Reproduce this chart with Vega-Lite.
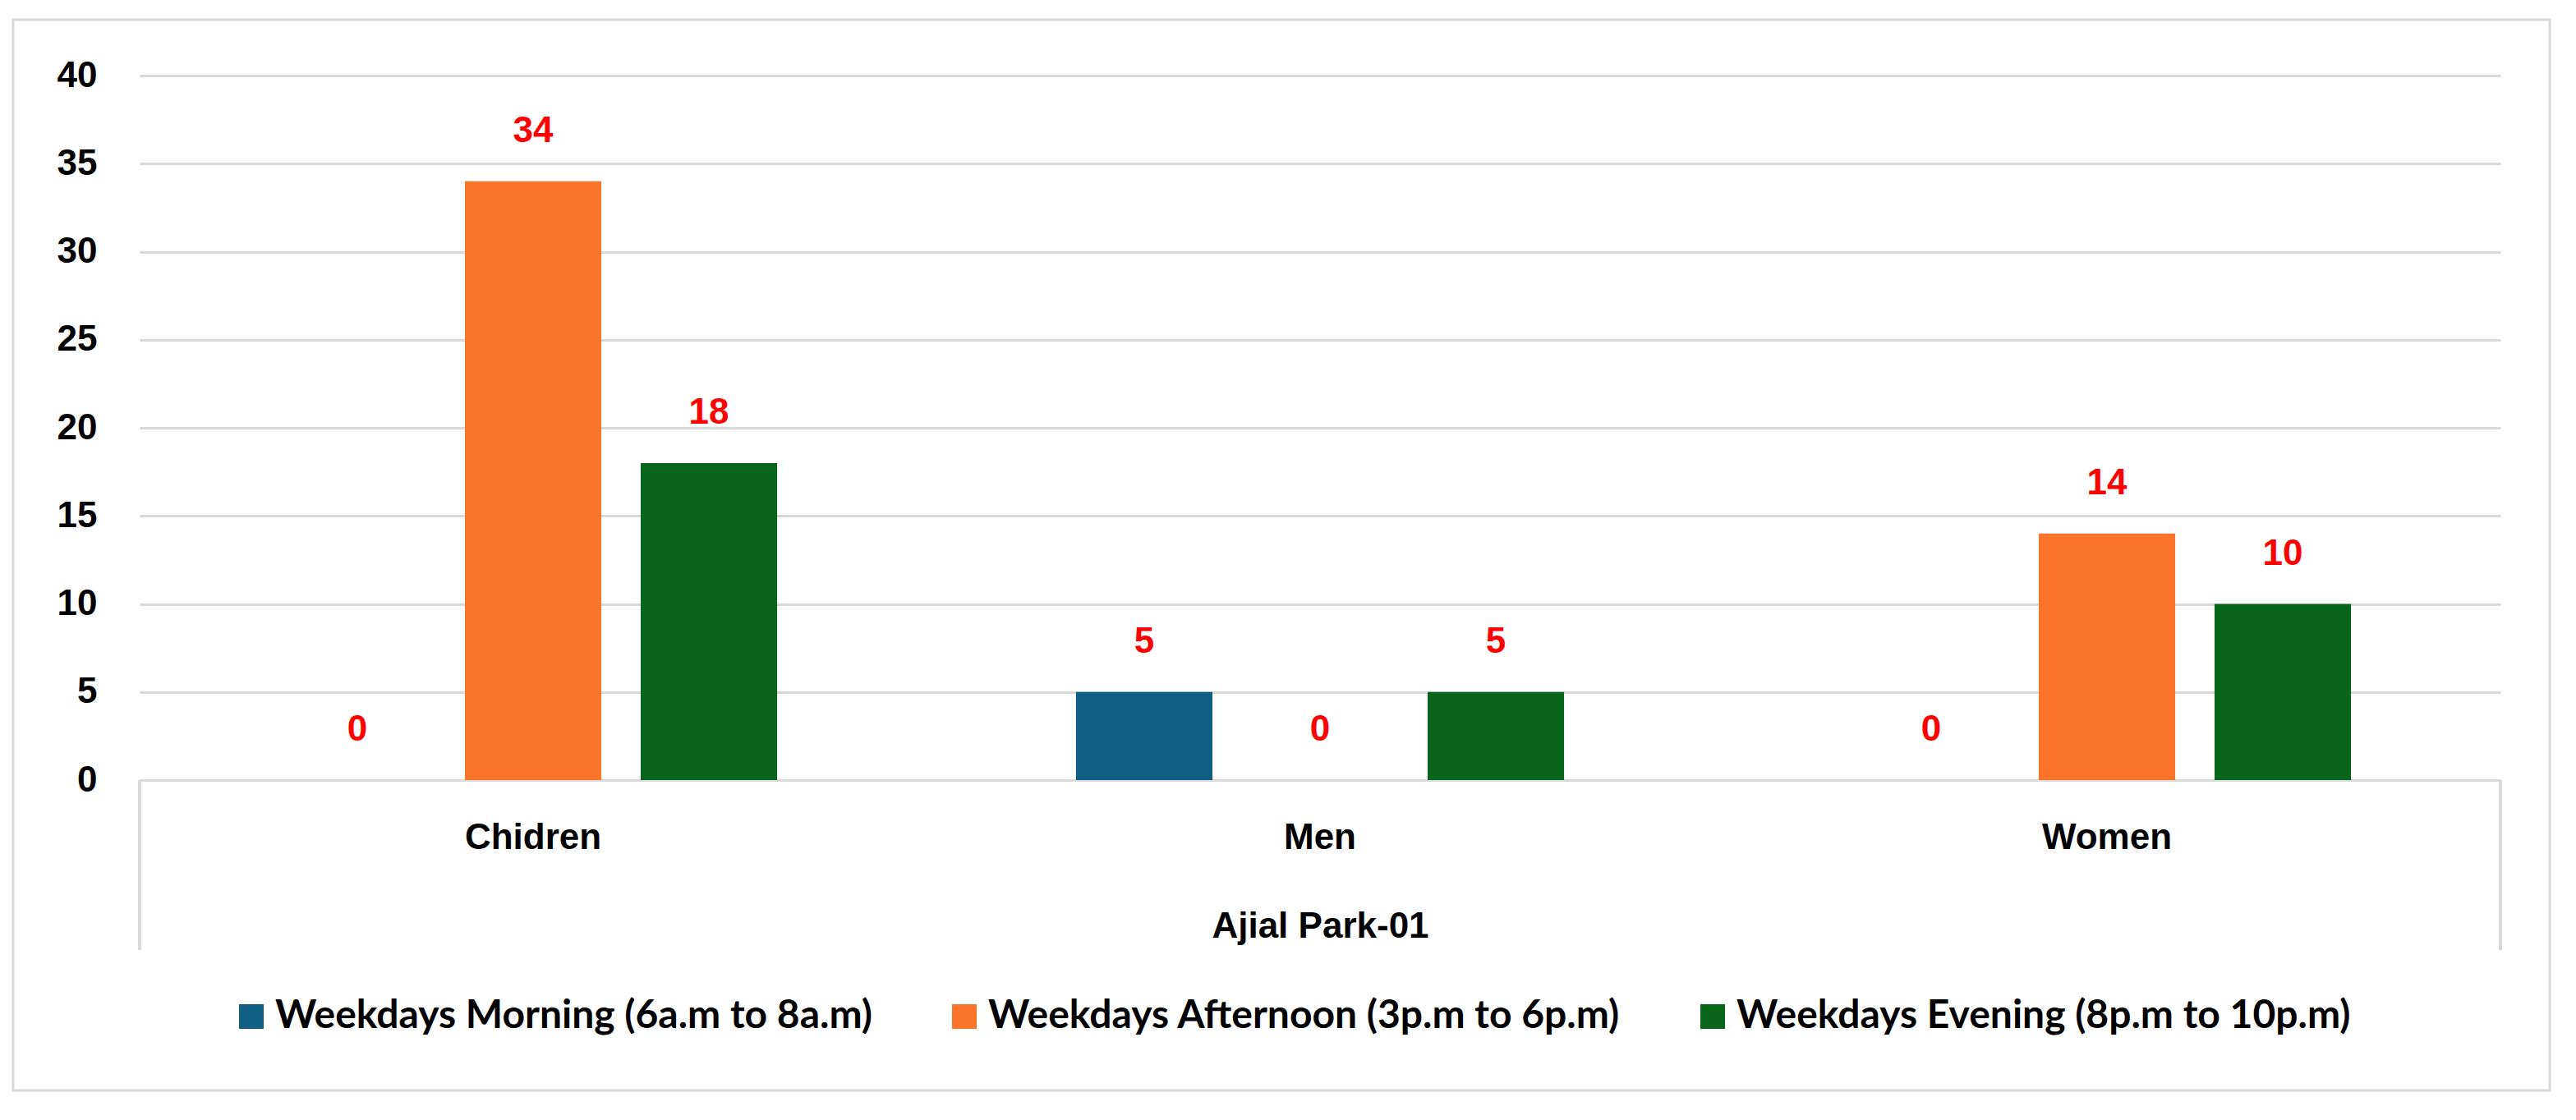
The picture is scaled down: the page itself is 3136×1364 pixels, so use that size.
{
  "$schema": "https://vega.github.io/schema/vega-lite/v6.json",
  "autosize": "none",
  "width": 2874,
  "height": 858,
  "padding": {"left": 170, "top": 92, "right": 92, "bottom": 414},
  "background": "#ffffff",
  "config": {"view": {"stroke": null}},
  "datasets": {
    "bars": [
      {"Group": "Chidren", "Period": "Weekdays Morning (6a.m to 8a.m)", "Count": 0},
      {"Group": "Chidren", "Period": "Weekdays Afternoon (3p.m to 6p.m)", "Count": 34},
      {"Group": "Chidren", "Period": "Weekdays Evening (8p.m to 10p.m)", "Count": 18},
      {"Group": "Men", "Period": "Weekdays Morning (6a.m to 8a.m)", "Count": 5},
      {"Group": "Men", "Period": "Weekdays Afternoon (3p.m to 6p.m)", "Count": 0},
      {"Group": "Men", "Period": "Weekdays Evening (8p.m to 10p.m)", "Count": 5},
      {"Group": "Women", "Period": "Weekdays Morning (6a.m to 8a.m)", "Count": 0},
      {"Group": "Women", "Period": "Weekdays Afternoon (3p.m to 6p.m)", "Count": 14},
      {"Group": "Women", "Period": "Weekdays Evening (8p.m to 10p.m)", "Count": 10}
    ],
    "frame": [{"x0": -0.0536, "x1": 1.0209, "y0": -0.4406, "y1": 1.0793}]
  },
  "layer": [
    {
      "data": {"name": "frame"},
      "mark": {"type": "rect", "fill": "#ffffff", "fillOpacity": 0, "stroke": "#d9d9d9", "strokeWidth": 3},
      "encoding": {
        "x": {"field": "x0", "type": "quantitative", "scale": {"domain": [0, 1], "nice": false, "zero": false}, "axis": null},
        "x2": {"field": "x1"},
        "y": {"field": "y0", "type": "quantitative", "scale": {"domain": [0, 1], "nice": false, "zero": false}, "axis": null},
        "y2": {"field": "y1"}
      }
    },
    {
      "data": {"name": "bars"},
      "encoding": {
        "x": {
          "field": "Group", "type": "nominal",
          "scale": {"domain": ["Chidren", "Men", "Women"], "paddingInner": 0, "paddingOuter": 0},
          "axis": {
            "title": "Ajial Park-01",
            "labelAngle": 0,
            "labelFont": "Liberation Sans", "labelFontWeight": "bold", "labelFontSize": 44, "labelColor": "#000000",
            "labelBaseline": "middle", "labelPadding": 70,
            "ticks": false,
            "domainColor": "#d9d9d9", "domainWidth": 3,
            "titleFont": "Liberation Sans", "titleFontWeight": "bold", "titleFontSize": 44, "titleColor": "#000000",
            "titleBaseline": "middle", "titleY": 178
          }
        }
      },
      "layer": [
        {
          "mark": {"type": "bar"},
          "encoding": {
            "y": {
              "field": "Count", "type": "quantitative",
              "scale": {"domain": [0, 40], "nice": false, "zero": false},
              "axis": {
                "title": null,
                "values": [0, 5, 10, 15, 20, 25, 30, 35, 40],
                "domain": false, "ticks": false,
                "grid": true, "gridColor": "#d9d9d9", "gridWidth": 3,
                "labelFont": "Liberation Sans", "labelFontWeight": "bold", "labelFontSize": 44, "labelColor": "#000000",
                "labelPadding": 52
              }
            },
            "xOffset": {
              "field": "Period", "type": "nominal",
              "scale": {"domain": ["Weekdays Morning (6a.m to 8a.m)", "Weekdays Afternoon (3p.m to 6p.m)", "Weekdays Evening (8p.m to 10p.m)"], "paddingInner": 0.224, "paddingOuter": 0.85}
            },
            "color": {
              "field": "Period", "type": "nominal",
              "scale": {
                "domain": ["Weekdays Morning (6a.m to 8a.m)", "Weekdays Afternoon (3p.m to 6p.m)", "Weekdays Evening (8p.m to 10p.m)"],
                "range": ["#0f5f84", "#fb7429", "#08661a"]
              },
              "legend": {
                "title": null,
                "orient": "none",
                "direction": "horizontal",
                "legendX": 112,
                "legendY": 1122,
                "symbolType": "square",
                "symbolSize": 900,
                "symbolStrokeWidth": 0,
                "labelFont": "Lato", "labelFontWeight": "bold", "labelFontSize": 48, "labelColor": "#000000",
                "labelOffset": 5,
                "columnPadding": 88,
                "labelLimit": 2000,
                "padding": 0
              }
            }
          }
        },
        {
          "mark": {"type": "text", "color": "#ff0000", "font": "Liberation Sans", "fontWeight": "bold", "fontSize": 44, "baseline": "middle", "dy": -61},
          "encoding": {
            "y": {"field": "Count", "type": "quantitative"},
            "xOffset": {"field": "Period", "type": "nominal"},
            "text": {"field": "Count", "type": "quantitative"}
          }
        },
        {
          "mark": {"type": "rule", "color": "#d9d9d9", "strokeWidth": 3},
          "encoding": {
            "x": {"datum": "Chidren", "type": "nominal", "bandPosition": 0},
            "y": {"datum": 0, "type": "quantitative"},
            "y2": {"datum": -9.65}
          }
        },
        {
          "mark": {"type": "rule", "color": "#d9d9d9", "strokeWidth": 3},
          "encoding": {
            "x": {"datum": "Women", "type": "nominal", "bandPosition": 1},
            "y": {"datum": 0, "type": "quantitative"},
            "y2": {"datum": -9.65}
          }
        }
      ]
    }
  ],
  "resolve": {"scale": {"x": "independent", "y": "independent"}}
}
